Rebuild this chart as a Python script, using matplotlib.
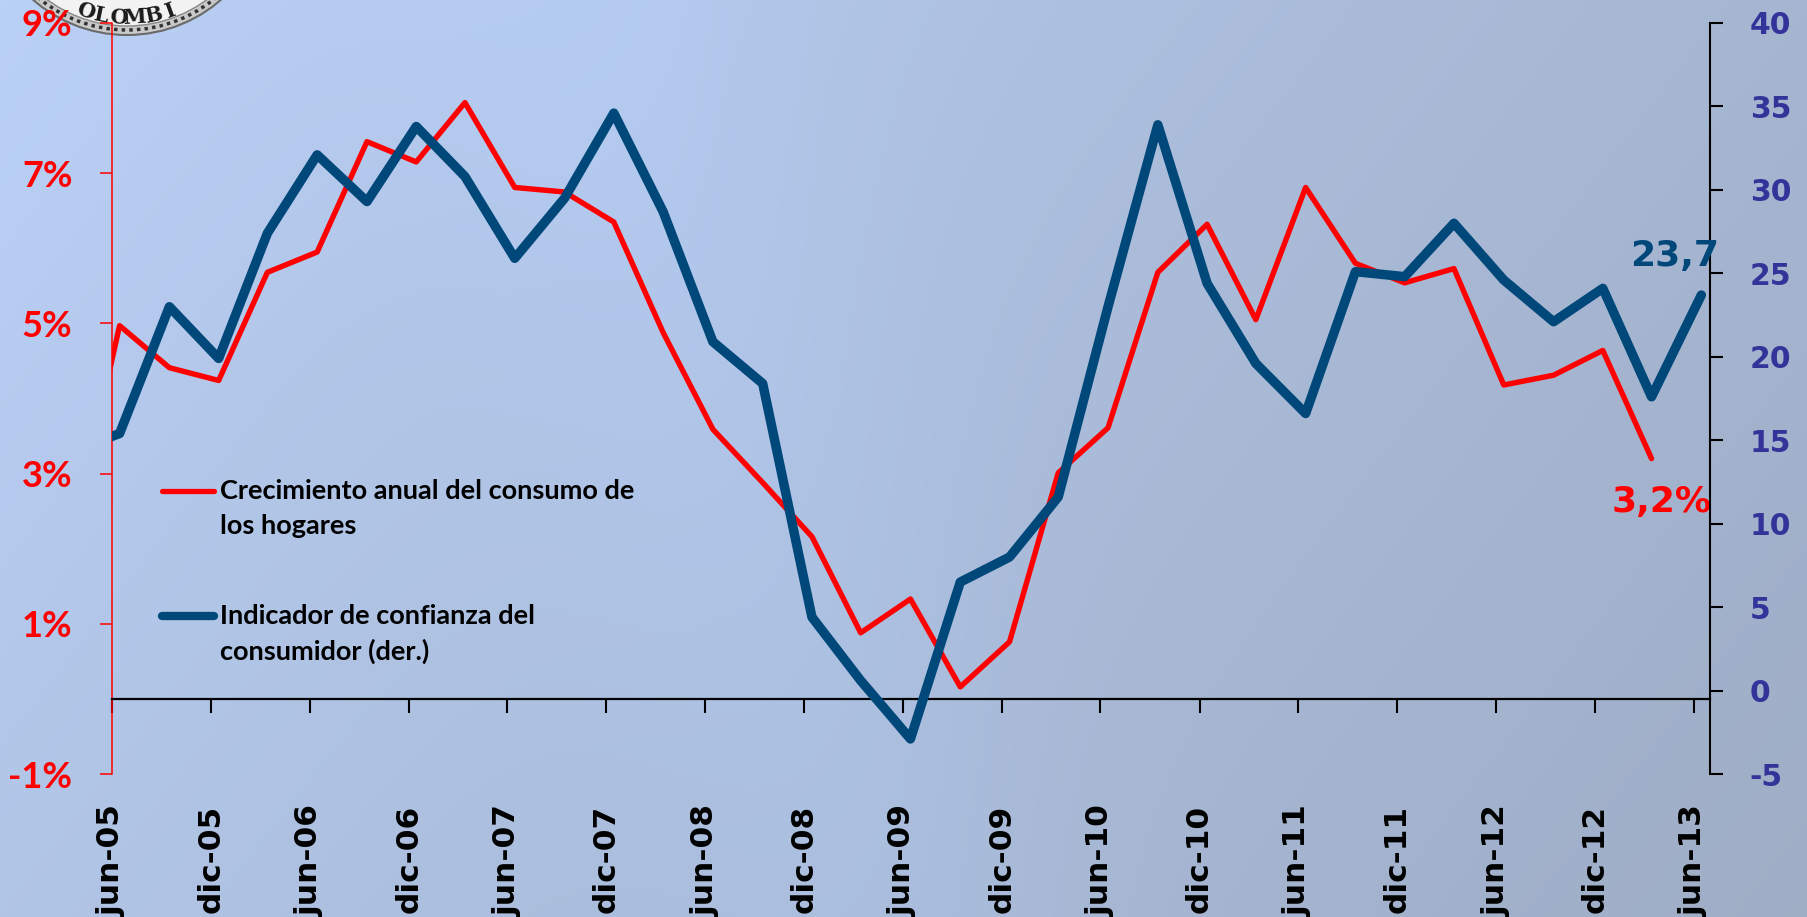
import numpy as np
import pandas as pd
import matplotlib
matplotlib.use("Agg")
import matplotlib.pyplot as plt
import matplotlib.dates as mdates
from matplotlib.patches import Circle

# trimestres (el primero, mar-05, queda fuera del eje: solo se ve el tramo cortado)
trimestres = pd.date_range("2005-03-01", "2013-06-01", freq="3MS") + pd.Timedelta(days=14)

# crecimiento anual del consumo de los hogares (%), hasta mar-13
consumo = [2.0, 4.97, 4.41, 4.24, 5.68, 5.95, 7.42, 7.15, 7.94, 6.81, 6.75, 6.35,
           4.88, 3.59, 2.88, 2.16, 0.88, 1.33, 0.16, 0.76, 3.01, 3.61, 5.68, 6.32,
           5.05, 6.81, 5.80, 5.54, 5.73, 4.18, 4.31, 4.64, 3.2]
# indicador de confianza del consumidor (eje derecho), hasta jun-13
confianza = [14.3, 15.4, 23.0, 19.9, 27.4, 32.1, 29.3, 33.8, 30.8, 25.9, 29.5, 34.6,
             28.7, 20.9, 18.4, 4.4, 0.6, -2.9, 6.5, 8.0, 11.6, 23.0, 33.9, 24.4,
             19.6, 16.6, 25.1, 24.8, 28.0, 24.6, 22.1, 24.1, 17.6, 23.7]

fechas_ticks = pd.date_range("2005-06-01", "2013-06-01", freq="6MS")
etiquetas_x = [("jun-" if f.month == 6 else "dic-") + f.strftime("%y") for f in fechas_ticks]
ticks_izq = [-1, 1, 3, 5, 7, 9]
ticks_der = list(range(-5, 41, 5))

ROJO = "#FF0000"
AZUL = "#00477A"
MORADO = "#333399"
CALIBRI = ["Lato", "DejaVu Sans"]

W, H = 1808, 917
fig = plt.figure(figsize=(W / 100, H / 100), dpi=100)

# fondo degradado tipo diapositiva
bg = fig.add_axes([0, 0, 1, 1])
bg.set_xlim(0, W)
bg.set_ylim(H, 0)
bg.axis("off")
yy, xx = np.mgrid[0:1:240j, 0:1:480j]
t = np.clip(0.72 * xx + 0.28 * yy, 0, 1) ** 0.85
claro = np.array([0.73, 0.82, 0.97])
oscuro = np.array([0.625, 0.68, 0.775])
img = claro * (1 - t[..., None]) + oscuro * t[..., None]
banda = np.exp(-((xx - 0.33 - 0.15 * yy) / 0.12) ** 2) * 0.03
img = np.clip(img + banda[..., None] * np.array([0.3, 0.6, 1.0]), 0, 1)
bg.imshow(img, extent=(0, W, H, 0), aspect="auto", interpolation="bilinear", zorder=0)

# sello (cortado arriba a la izquierda); solo se ven las letras del borde inferior
cx, cy = 127, -108
bg.add_patch(Circle((cx, cy), 143, facecolor="#c9c9c9", edgecolor="#6a6a6a", lw=1.5, zorder=1))
bg.add_patch(Circle((cx, cy), 138, facecolor="none", edgecolor="#333333", lw=2.5, ls=(0, (1, 1.2)), zorder=2))
bg.add_patch(Circle((cx, cy), 134, facecolor="#f2f2f2", edgecolor="#888888", lw=1, zorder=2))
for letra, ang in zip("OLOMBI", [-19, -11.5, -4, 3.5, 12, 20]):
    a = np.radians(ang)
    bg.text(cx + 126 * np.sin(a), cy + 126 * np.cos(a), letra, rotation=ang,
            ha="center", va="center", fontsize=15, fontweight="bold",
            family="DejaVu Serif", color="#1a1a1a", zorder=3)

# ejes
ax = fig.add_axes([112 / W, 1 - 774 / H, (1710 - 112) / W, (774 - 23) / H])
ax.patch.set_alpha(0)
ax2 = ax.twinx()

x = mdates.date2num(trimestres)
ax.plot(x[:len(consumo)], consumo, color=ROJO, lw=3.9,
        solid_joinstyle="round", solid_capstyle="round", zorder=3)
ax2.plot(x, confianza, color=AZUL, lw=6.8,
         solid_joinstyle="round", solid_capstyle="round", zorder=3)

ax.set_xlim(mdates.date2num(pd.Timestamp("2005-06-01")), mdates.date2num(pd.Timestamp("2013-07-01")))
ax.set_ylim(-1, 9)
ax2.set_ylim(-5, 40)

ax.set_yticks(ticks_izq, labels=[f"{v}%" for v in ticks_izq], fontsize=26,
              fontweight="bold", family=CALIBRI, color=ROJO)
ax.tick_params(axis="y", color=ROJO, length=8.5, width=1.1, pad=20)
ax2.set_yticks(ticks_der, labels=[str(v) for v in ticks_der], fontsize=21.5,
               fontweight="bold", color=MORADO)
ax2.tick_params(axis="y", color="black", length=9.5, width=1.5, pad=19)

xt = mdates.date2num(fechas_ticks)
ax.set_xticks(xt)
ax.tick_params(axis="x", direction="out", length=10, width=1.5, color="black", labelbottom=False)
for xi, lab in zip(xt, etiquetas_x):
    ax.text(xi, -0.041, lab, transform=ax.get_xaxis_transform(), rotation=90,
            ha="center", va="top", fontsize=22.5, fontweight="bold", color="black")

ax.spines["top"].set_visible(False)
ax.spines["right"].set_visible(False)
ax.spines["left"].set_color(ROJO)
ax.spines["left"].set_linewidth(1.1)
ax.spines["bottom"].set_position(("data", 0))
ax.spines["bottom"].set_color("black")
ax.spines["bottom"].set_linewidth(1.6)
for s in ["top", "left", "bottom"]:
    ax2.spines[s].set_visible(False)
ax2.spines["right"].set_color("black")
ax2.spines["right"].set_linewidth(1.5)

# etiquetas de los últimos datos
ax2.annotate(f"{confianza[-1]:.1f}".replace(".", ","), xy=(x[-1], confianza[-1]),
             xytext=(-27, 39), textcoords="offset pixels", ha="center", va="center",
             fontsize=26, fontweight="bold", color=AZUL)
ax.annotate(f"{consumo[-1]:.1f}%".replace(".", ","), xy=(x[len(consumo) - 1], consumo[-1]),
            xytext=(10, -43), textcoords="offset pixels", ha="center", va="center",
            fontsize=26, fontweight="bold", color=ROJO)

# leyenda
leyenda = [(ROJO, 3.8, ["Crecimiento anual del consumo de", "los hogares"], 491),
           (AZUL, 6.0, ["Indicador de confianza del", "consumidor (der.)"], 616)]
for color, lw, lineas, y0 in leyenda:
    bg.plot([162, 214], [y0, y0], color=color, lw=lw, solid_capstyle="round", zorder=4)
    for i, linea in enumerate(lineas):
        bg.text(220, y0 + 35 * i, linea, ha="left", va="center", fontsize=19.5,
                fontweight="bold", family=CALIBRI, color="black", zorder=4)

fig.savefig("out.png", dpi=100)
